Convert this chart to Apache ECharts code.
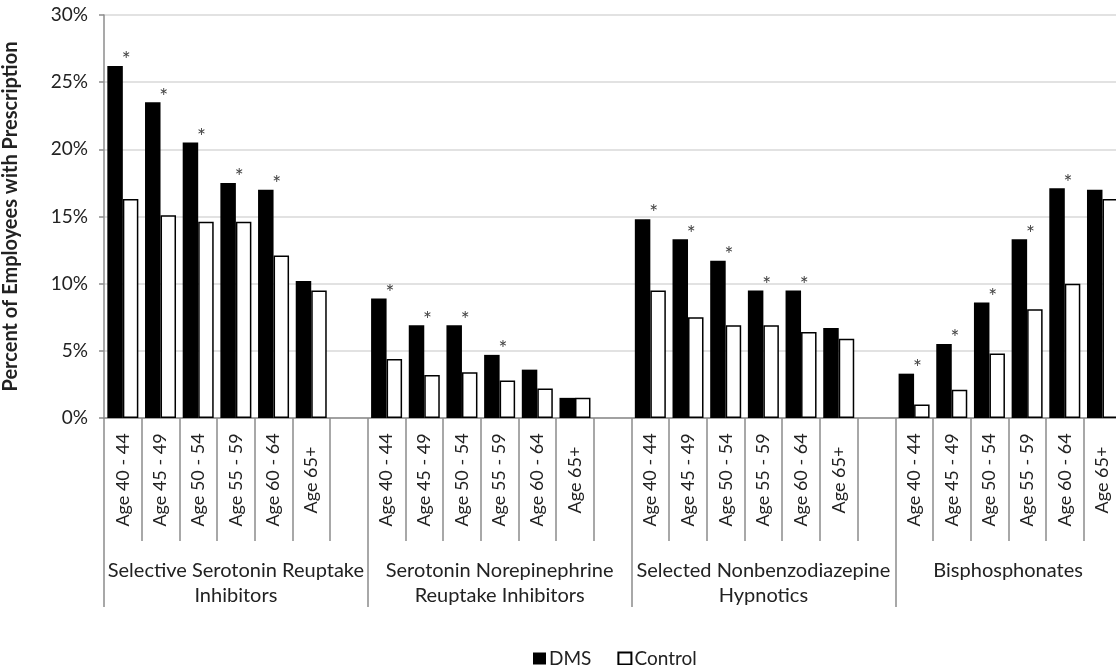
<!DOCTYPE html>
<html>
<head>
<meta charset="utf-8">
<script src="https://cdn.jsdelivr.net/npm/echarts@6/dist/echarts.min.js"></script>
<style>
html,body{margin:0;padding:0;background:#fff;}
#chart{width:1116px;height:665px;}
</style>
</head>
<body>
<div id="chart"></div>
<script>
const ageLabels = ['Age 40 - 44','Age 45 - 49','Age 50 - 54','Age 55 - 59','Age 60 - 64','Age 65+'];
const groupLabels = ['Selective Serotonin Reuptake\nInhibitors','Serotonin Norepinephrine\nReuptake Inhibitors','Selected Nonbenzodiazepine\nHypnotics','Bisphosphonates'];
const seriesNames = ['DMS','Control'];
const yTicks = [0,5,10,15,20,25,30];

const dmsSSRI  = [26.2, 23.5, 20.5, 17.5, 17.0, 10.2];
const ctrlSSRI = [16.3, 15.1, 14.6, 14.6, 12.1, 9.5];
const dmsSNRI  = [8.9, 6.9, 6.9, 4.7, 3.6, 1.5];
const ctrlSNRI = [4.4, 3.2, 3.4, 2.8, 2.2, 1.5];
const dmsHyp   = [14.8, 13.3, 11.7, 9.5, 9.5, 6.7];
const ctrlHyp  = [9.5, 7.5, 6.9, 6.9, 6.4, 5.9];
const dmsBis   = [3.3, 5.5, 8.6, 13.3, 17.1, 17.0];
const ctrlBis  = [1.0, 2.1, 4.8, 8.1, 10.0, 16.3];
const sigSSRI = [1,1,1,1,1,0];
const sigSNRI = [1,1,1,1,0,0];
const sigHyp  = [1,1,1,1,1,0];
const sigBis  = [1,1,1,1,1,0];

const dmsGroups = [dmsSSRI, dmsSNRI, dmsHyp, dmsBis];
const ctrlGroups = [ctrlSSRI, ctrlSNRI, ctrlHyp, ctrlBis];
const sigGroups = [sigSSRI, sigSNRI, sigHyp, sigBis];

const cats = [], dmsData = [], ctrlData = [];
for (let g = 0; g < 4; g++) {
  for (let i = 0; i < ageLabels.length; i++) {
    cats.push(ageLabels[i]);
    dmsData.push({value: dmsGroups[g][i], sig: sigGroups[g][i]});
    ctrlData.push(ctrlGroups[g][i]);
  }
  cats.push('');
  dmsData.push('-');
  ctrlData.push('-');
}
// last group has only its six age categories: centre its label over them
const groupAxisData = groupLabels.map((g, i) =>
  i === groupLabels.length - 1 ? {value: g, textStyle: {padding: [0, 38, 0, 0]}} : g);

const FONT = 'Lato';
const chart = echarts.init(document.getElementById('chart'), null, {renderer: 'canvas'});
chart.setOption({
  animation: false,
  textStyle: {fontFamily: FONT},
  grid: {left: 104, top: 15, width: 1055, height: 403, outerBoundsMode: 'none', containLabel: false},
  legend: {
    data: seriesNames,
    left: 528, top: 644,
    itemWidth: 13, itemHeight: 12, itemGap: 26,
    icon: 'rect',
    textStyle: {fontFamily: FONT, fontSize: 19, color: '#222', padding: [0,0,0,-2]}
  },
  xAxis: [{
    type: 'category',
    data: cats,
    position: 'bottom',
    axisLine: {show: true, lineStyle: {color: '#8c8c8c', width: 1.5}},
    axisTick: {show: true, interval: 0, length: 123, lineStyle: {color: '#8c8c8c', width: 1.5}},
    axisLabel: {interval: 0, rotate: 90, align: 'center', verticalAlign: 'middle', margin: 62,
      fontFamily: FONT, fontSize: 18, color: '#222'},
    splitLine: {show: false}
  }, {
    type: 'category',
    data: groupAxisData,
    position: 'bottom',
    axisLine: {show: false},
    axisTick: {show: true, interval: 0, length: 189, lineStyle: {color: '#8c8c8c', width: 1.5}},
    axisLabel: {interval: 0, margin: 140, fontFamily: FONT, fontSize: 20, lineHeight: 25, color: '#222'}
  }],
  yAxis: {
    type: 'value',
    min: yTicks[0], max: yTicks[yTicks.length-1], interval: 5,
    name: 'Percent of Employees with Prescription',
    nameLocation: 'middle', nameGap: 83,
    nameTextStyle: {fontFamily: FONT, fontWeight: 'bold', fontSize: 20, color: '#222'},
    axisLine: {show: true, lineStyle: {color: '#8c8c8c', width: 1.5}},
    axisTick: {show: true, length: 5, lineStyle: {color: '#8c8c8c', width: 1.5}},
    axisLabel: {formatter: '{value}%', margin: 16, fontFamily: FONT, fontSize: 19, color: '#222'},
    splitLine: {lineStyle: {color: '#d9d9d9', width: 1.5}}
  },
  series: [{
    name: seriesNames[0], type: 'bar', xAxisIndex: 0,
    data: dmsData,
    barWidth: 15.5, barGap: '0%',
    itemStyle: {color: '#000'},
    label: {show: true, position: 'top', distance: 0, offset: [11, 5],
      formatter: p => p.data && p.data.sig ? '*' : '',
      fontFamily: FONT, fontSize: 21, color: '#444'}
  }, {
    name: seriesNames[1], type: 'bar', xAxisIndex: 0,
    data: ctrlData,
    barWidth: 15.5, barGap: '0%',
    itemStyle: {color: '#fff', borderColor: '#000', borderWidth: 1.5}
  }]
});
</script>
</body>
</html>
